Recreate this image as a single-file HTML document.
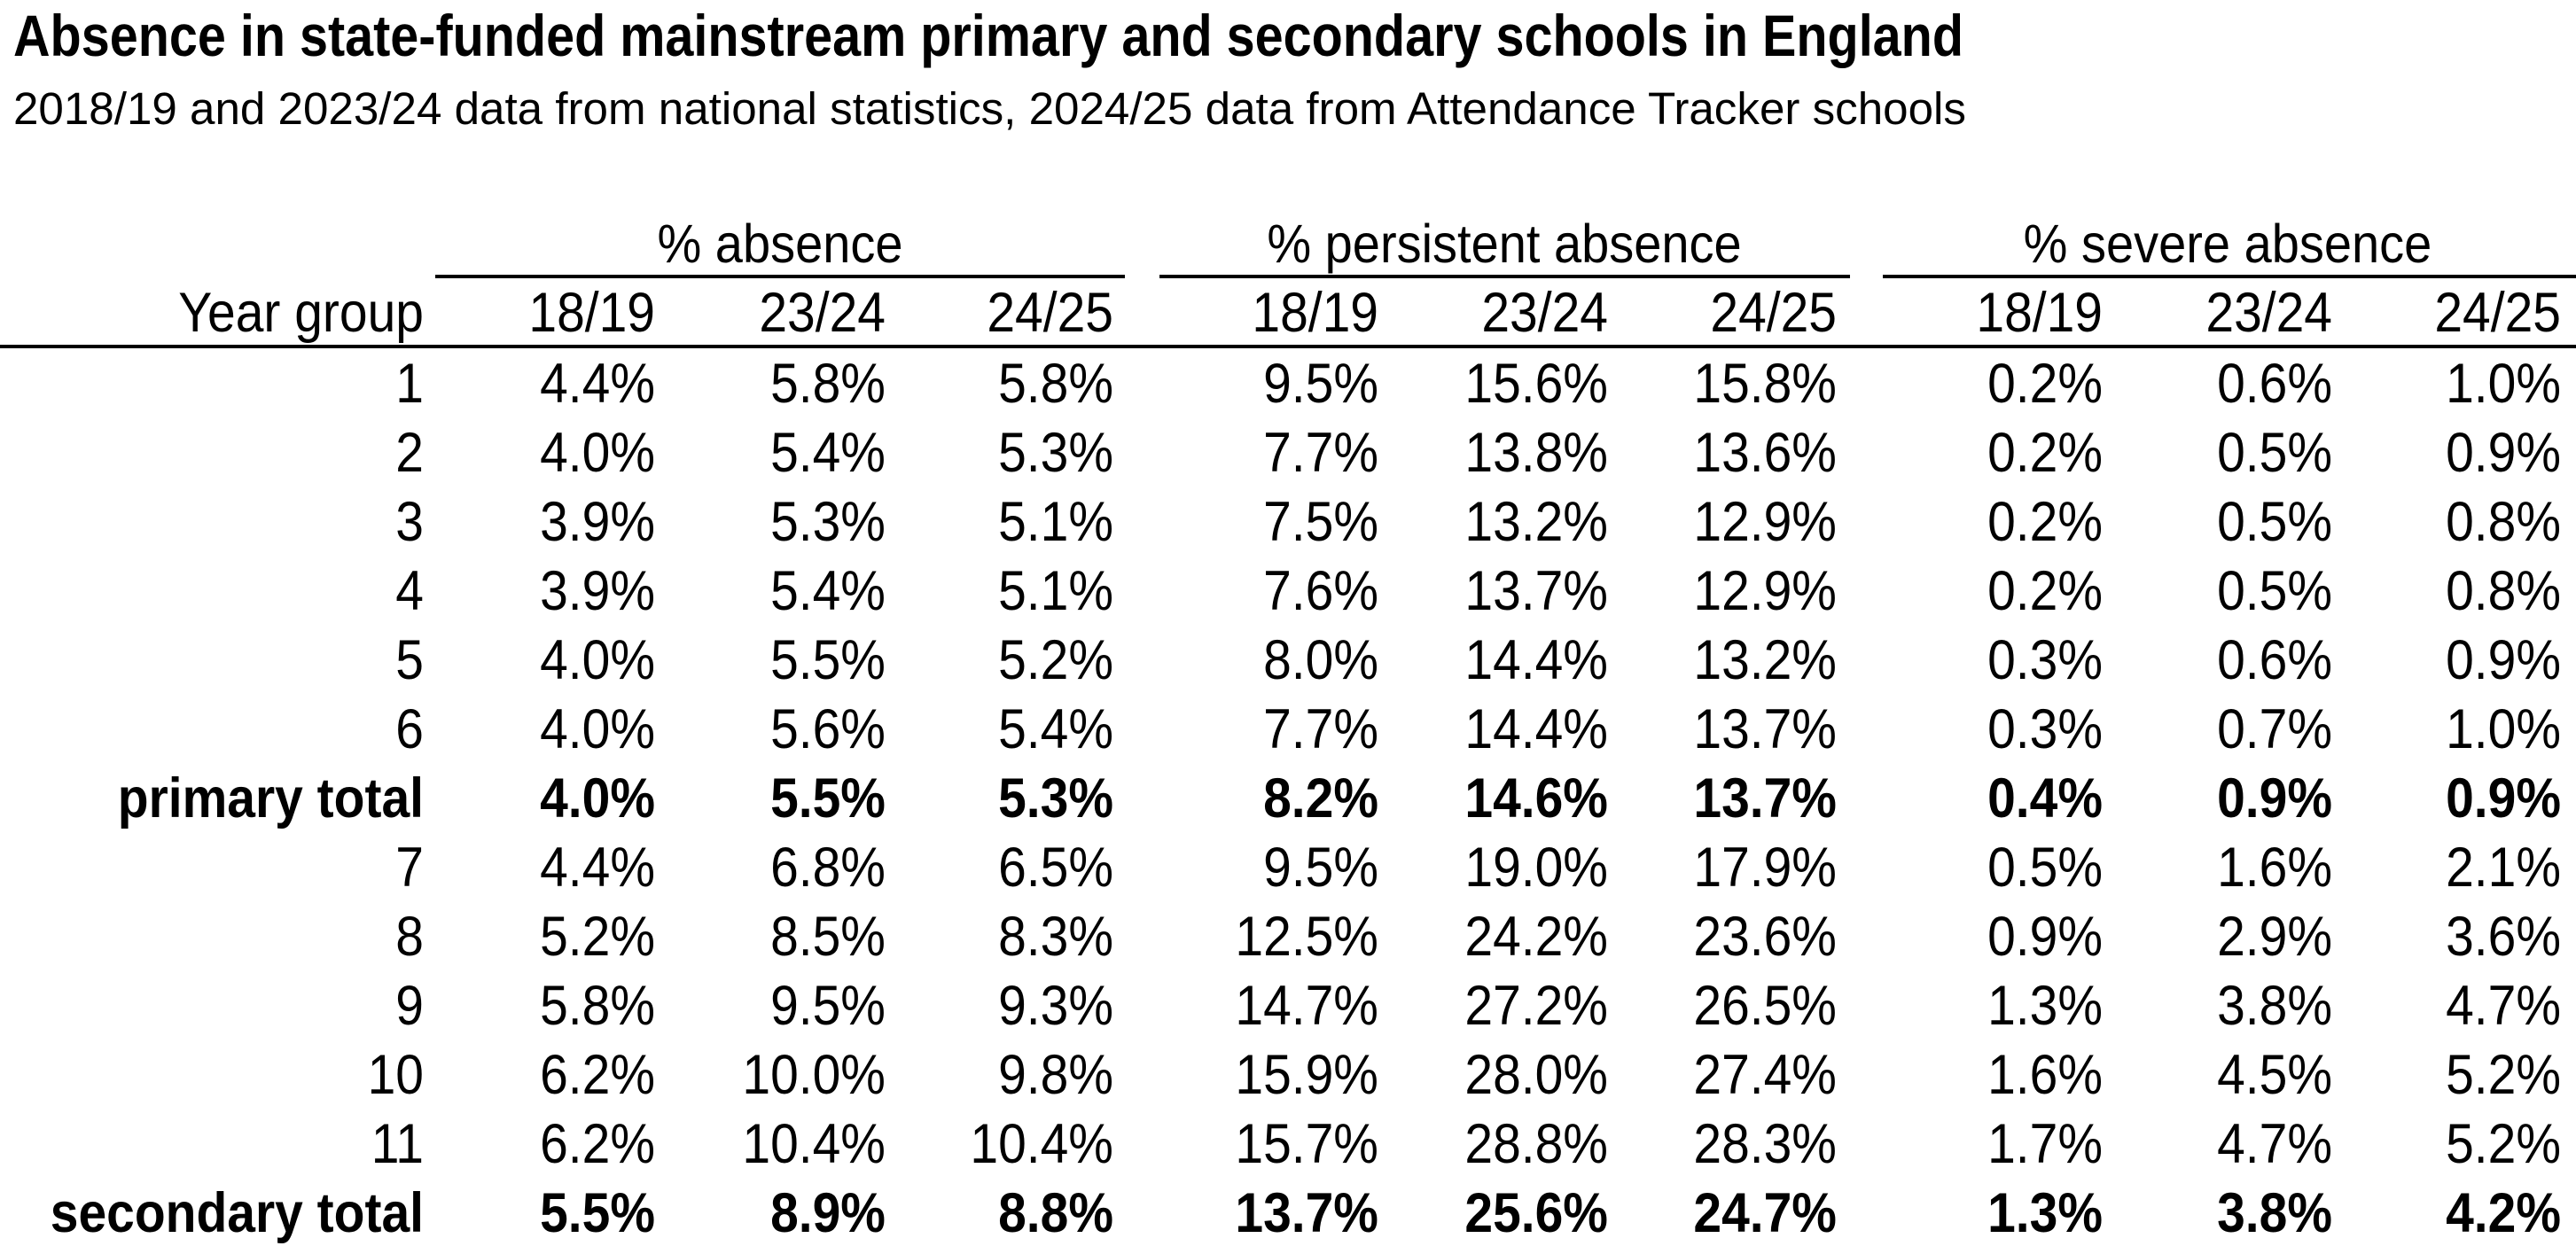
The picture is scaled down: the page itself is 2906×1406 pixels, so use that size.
<!DOCTYPE html>
<html><head><meta charset="utf-8"><style>
html,body{margin:0;padding:0;background:#fff;}
svg{display:block;}
text{font-family:"Liberation Sans",sans-serif;fill:#000;}
.b{font-weight:bold;}
.d{font-size:57px;text-anchor:end;}
</style></head><body>
<svg width="2906" height="1406" viewBox="0 0 2906 1406" xmlns="http://www.w3.org/2000/svg">
<g transform="translate(0,63) scale(1,1.15)"><text x="15" y="0" class="b" font-size="57" textLength="2200" lengthAdjust="spacingAndGlyphs">Absence in state-funded mainstream primary and secondary schools in England</text></g>
<g transform="translate(0,140) scale(1,1.15)"><text x="15" y="0" font-size="44" textLength="2203" lengthAdjust="spacingAndGlyphs">2018/19 and 2023/24 data from national statistics, 2024/25 data from Attendance Tracker schools</text></g>
<g font-size="56" text-anchor="middle" transform="translate(0,296) scale(1,1.1)">
<text x="880" y="0">% absence</text>
<text x="1697" y="0">% persistent absence</text>
<text x="2513" y="0">% severe absence</text>
</g>
<g stroke="#000" stroke-width="4">
<line x1="491" y1="312" x2="1269" y2="312"/>
<line x1="1308" y1="312" x2="2087" y2="312"/>
<line x1="2124" y1="312" x2="2906" y2="312"/>
<line x1="0" y1="391" x2="2906" y2="391"/>
</g>
<g class="d" transform="translate(0,374) scale(1,1.1)">
<text x="478">Year group</text>
<text x="739">18/19</text><text x="999">23/24</text><text x="1256">24/25</text>
<text x="1555">18/19</text><text x="1814">23/24</text><text x="2072">24/25</text>
<text x="2372">18/19</text><text x="2631">23/24</text><text x="2889">24/25</text>
</g>
<g class="d">
<g transform="translate(0,454) scale(1,1.1)"><text x="478">1</text><text x="739">4.4%</text><text x="999">5.8%</text><text x="1256">5.8%</text><text x="1555">9.5%</text><text x="1814">15.6%</text><text x="2072">15.8%</text><text x="2372">0.2%</text><text x="2631">0.6%</text><text x="2889">1.0%</text></g>
<g transform="translate(0,532) scale(1,1.1)"><text x="478">2</text><text x="739">4.0%</text><text x="999">5.4%</text><text x="1256">5.3%</text><text x="1555">7.7%</text><text x="1814">13.8%</text><text x="2072">13.6%</text><text x="2372">0.2%</text><text x="2631">0.5%</text><text x="2889">0.9%</text></g>
<g transform="translate(0,610) scale(1,1.1)"><text x="478">3</text><text x="739">3.9%</text><text x="999">5.3%</text><text x="1256">5.1%</text><text x="1555">7.5%</text><text x="1814">13.2%</text><text x="2072">12.9%</text><text x="2372">0.2%</text><text x="2631">0.5%</text><text x="2889">0.8%</text></g>
<g transform="translate(0,688) scale(1,1.1)"><text x="478">4</text><text x="739">3.9%</text><text x="999">5.4%</text><text x="1256">5.1%</text><text x="1555">7.6%</text><text x="1814">13.7%</text><text x="2072">12.9%</text><text x="2372">0.2%</text><text x="2631">0.5%</text><text x="2889">0.8%</text></g>
<g transform="translate(0,766) scale(1,1.1)"><text x="478">5</text><text x="739">4.0%</text><text x="999">5.5%</text><text x="1256">5.2%</text><text x="1555">8.0%</text><text x="1814">14.4%</text><text x="2072">13.2%</text><text x="2372">0.3%</text><text x="2631">0.6%</text><text x="2889">0.9%</text></g>
<g transform="translate(0,844) scale(1,1.1)"><text x="478">6</text><text x="739">4.0%</text><text x="999">5.6%</text><text x="1256">5.4%</text><text x="1555">7.7%</text><text x="1814">14.4%</text><text x="2072">13.7%</text><text x="2372">0.3%</text><text x="2631">0.7%</text><text x="2889">1.0%</text></g>
<g transform="translate(0,922) scale(1,1.1)" class="b"><text x="478">primary total</text><text x="739">4.0%</text><text x="999">5.5%</text><text x="1256">5.3%</text><text x="1555">8.2%</text><text x="1814">14.6%</text><text x="2072">13.7%</text><text x="2372">0.4%</text><text x="2631">0.9%</text><text x="2889">0.9%</text></g>
<g transform="translate(0,1000) scale(1,1.1)"><text x="478">7</text><text x="739">4.4%</text><text x="999">6.8%</text><text x="1256">6.5%</text><text x="1555">9.5%</text><text x="1814">19.0%</text><text x="2072">17.9%</text><text x="2372">0.5%</text><text x="2631">1.6%</text><text x="2889">2.1%</text></g>
<g transform="translate(0,1078) scale(1,1.1)"><text x="478">8</text><text x="739">5.2%</text><text x="999">8.5%</text><text x="1256">8.3%</text><text x="1555">12.5%</text><text x="1814">24.2%</text><text x="2072">23.6%</text><text x="2372">0.9%</text><text x="2631">2.9%</text><text x="2889">3.6%</text></g>
<g transform="translate(0,1156) scale(1,1.1)"><text x="478">9</text><text x="739">5.8%</text><text x="999">9.5%</text><text x="1256">9.3%</text><text x="1555">14.7%</text><text x="1814">27.2%</text><text x="2072">26.5%</text><text x="2372">1.3%</text><text x="2631">3.8%</text><text x="2889">4.7%</text></g>
<g transform="translate(0,1234) scale(1,1.1)"><text x="478">10</text><text x="739">6.2%</text><text x="999">10.0%</text><text x="1256">9.8%</text><text x="1555">15.9%</text><text x="1814">28.0%</text><text x="2072">27.4%</text><text x="2372">1.6%</text><text x="2631">4.5%</text><text x="2889">5.2%</text></g>
<g transform="translate(0,1312) scale(1,1.1)"><text x="478">11</text><text x="739">6.2%</text><text x="999">10.4%</text><text x="1256">10.4%</text><text x="1555">15.7%</text><text x="1814">28.8%</text><text x="2072">28.3%</text><text x="2372">1.7%</text><text x="2631">4.7%</text><text x="2889">5.2%</text></g>
<g transform="translate(0,1390) scale(1,1.1)" class="b"><text x="478">secondary total</text><text x="739">5.5%</text><text x="999">8.9%</text><text x="1256">8.8%</text><text x="1555">13.7%</text><text x="1814">25.6%</text><text x="2072">24.7%</text><text x="2372">1.3%</text><text x="2631">3.8%</text><text x="2889">4.2%</text></g>
</g>
</svg>
</body></html>
